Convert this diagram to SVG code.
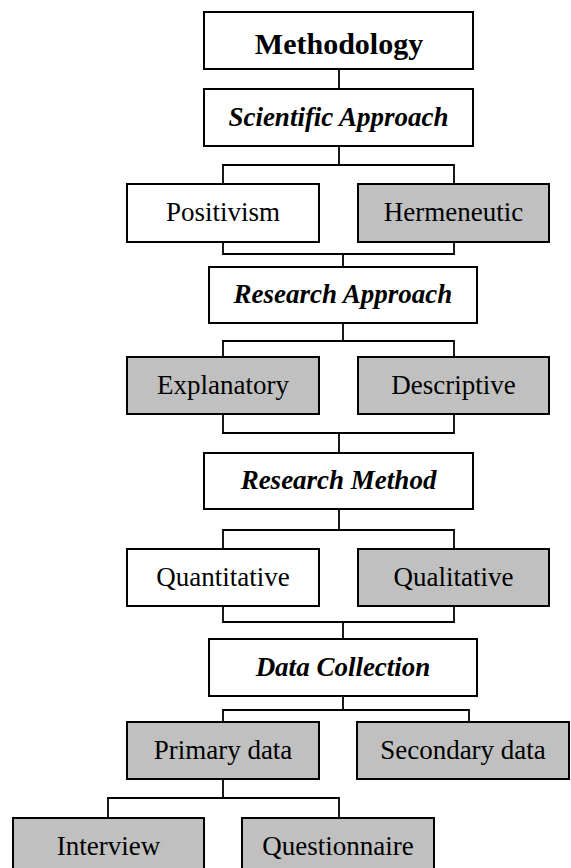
<svg xmlns="http://www.w3.org/2000/svg" width="571" height="868" viewBox="0 0 571 868">
<style>
.box{stroke:#000;stroke-width:2;fill:#fff}
.g{fill:#c0c0c0}
.t{font-family:"Liberation Serif","Times New Roman",serif;font-size:27px;text-anchor:middle;fill:#000}
.h{font-weight:bold;font-style:italic}
.big{font-weight:bold;font-size:30px}
.c{fill:none;stroke:#000;stroke-width:1.8}
</style>
<rect width="571" height="868" fill="#fff"/>
<g id="connectors">
<path class="c" d="M339,69V89"/>
<path class="c" d="M339,146V165M223,184V165H454V184"/>
<path class="c" d="M223,242V254H454V242M343,254V267"/>
<path class="c" d="M343,323V341M223,357V341H454V357"/>
<path class="c" d="M223,414V433H454V414M339,433V453"/>
<path class="c" d="M339,509V530M223,549V530H454V549"/>
<path class="c" d="M223,606V622H454V606M343,622V639"/>
<path class="c" d="M343,696V710M223,722V710H469V722"/>
<path class="c" d="M223,779V798M108,818V798H339V818"/>
</g>
<g id="methodology"><rect class="box" x="204" y="12" width="269" height="57"/><text class="t big" x="339" y="54">Methodology</text></g>
<g id="scientific-approach"><rect class="box" x="204" y="89" width="269" height="57"/><text class="t h" x="338.5" y="126">Scientific Approach</text></g>
<g id="positivism"><rect class="box" x="127" y="184" width="192" height="58"/><text class="t" x="223" y="221">Positivism</text></g>
<g id="hermeneutic"><rect class="box g" x="358" y="184" width="191" height="58"/><text class="t" x="453.5" y="221">Hermeneutic</text></g>
<g id="research-approach"><rect class="box" x="209" y="267" width="268" height="56"/><text class="t h" x="343" y="303">Research Approach</text></g>
<g id="explanatory"><rect class="box g" x="127" y="357" width="192" height="57"/><text class="t" x="223" y="394">Explanatory</text></g>
<g id="descriptive"><rect class="box g" x="358" y="357" width="191" height="57"/><text class="t" x="453.5" y="394">Descriptive</text></g>
<g id="research-method"><rect class="box" x="204" y="453" width="269" height="56"/><text class="t h" x="338.5" y="489">Research Method</text></g>
<g id="quantitative"><rect class="box" x="127" y="549" width="192" height="57"/><text class="t" x="223" y="586">Quantitative</text></g>
<g id="qualitative"><rect class="box g" x="358" y="549" width="191" height="57"/><text class="t" x="453.5" y="586">Qualitative</text></g>
<g id="data-collection"><rect class="box" x="209" y="639" width="268" height="57"/><text class="t h" x="343" y="676">Data Collection</text></g>
<g id="primary-data"><rect class="box g" x="127" y="722" width="192" height="57"/><text class="t" x="223" y="759">Primary data</text></g>
<g id="secondary-data"><rect class="box g" x="357" y="722" width="212" height="57"/><text class="t" x="463" y="759">Secondary data</text></g>
<g id="interview"><rect class="box g" x="13" y="818" width="191" height="60"/><text class="t" x="108.5" y="855">Interview</text></g>
<g id="questionnaire"><rect class="box g" x="242" y="818" width="192" height="60"/><text class="t" x="338" y="855">Questionnaire</text></g>
</svg>
